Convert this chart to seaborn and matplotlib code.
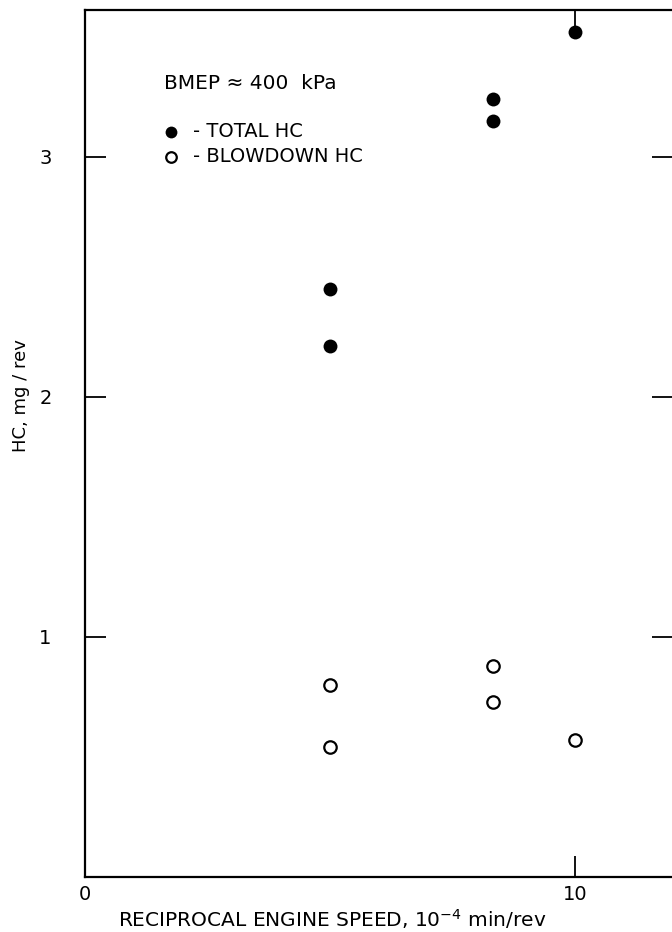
import numpy as np
import pandas as pd
import matplotlib
matplotlib.use("Agg")
import matplotlib.pyplot as plt
import seaborn as sns

# reciprocal engine speed, 10^-4 min/rev
total_x = [5.0, 5.0, 8.33, 8.33, 10.0]
total_hc = [2.45, 2.21, 3.24, 3.15, 3.52]

blowdown_x = [5.0, 5.0, 8.33, 8.33, 10.0]
blowdown_hc = [0.80, 0.54, 0.88, 0.73, 0.57]

x_ticks = [0, 10]
x_tick_labels = ["0", "10"]
y_ticks = [1, 2, 3]
y_tick_labels = ["1", "2", "3"]

df = pd.DataFrame({
    "x": total_x + blowdown_x,
    "hc": total_hc + blowdown_hc,
    "series": ["- TOTAL HC"] * len(total_x) + ["- BLOWDOWN HC"] * len(blowdown_x),
})

sns.set_style("white")
plt.rcParams["font.family"] = ["DejaVu Sans"]
plt.rcParams["text.color"] = "black"
plt.rcParams["axes.labelcolor"] = "black"
plt.rcParams["xtick.color"] = "black"
plt.rcParams["ytick.color"] = "black"

fig = plt.figure(figsize=(6.72, 9.32), dpi=100)
ax = fig.add_axes([0.1265, 0.059, 0.875, 0.930])

tot = df[df.series == "- TOTAL HC"]
blow = df[df.series == "- BLOWDOWN HC"]
sns.scatterplot(data=tot, x="x", y="hc", ax=ax, s=100, color="black",
                edgecolor="black", linewidth=0, label="- TOTAL HC")
sns.scatterplot(data=blow, x="x", y="hc", ax=ax, s=80, facecolor="white",
                edgecolor="black", linewidth=1.6, label="- BLOWDOWN HC")

ax.set_xlim(0, 12)
ax.set_ylim(0, 3.61)

ax.set_xticks(x_ticks)
ax.set_xticklabels(x_tick_labels, fontsize=14)
ax.set_yticks(y_ticks)
ax.set_yticklabels(y_tick_labels, fontsize=14)
ax.tick_params(axis="both", direction="in", length=15, width=1.3,
               top=True, right=True, bottom=True, left=True)
ax.tick_params(axis="y", pad=24)
ax.tick_params(axis="x", pad=6)

for side in ["left", "bottom", "top"]:
    ax.spines[side].set_color("black")
    ax.spines[side].set_linewidth(1.6)
ax.spines["right"].set_visible(False)

ax.set_xlabel("RECIPROCAL ENGINE SPEED, $\\mathregular{10^{-4}}$ min/rev", fontsize=14.5)
ax.xaxis.set_label_coords(0.42, -0.035)
ax.set_ylabel("HC, mg / rev", fontsize=13)
ax.yaxis.set_label_coords(-0.094, 0.555)

ax.text(0.135, 0.915, "BMEP \u2248 400  kPa", transform=ax.transAxes, fontsize=14.5,
        ha="left", va="center")
ax.legend(loc="upper left", bbox_to_anchor=(0.1, 0.88), frameon=False,
          fontsize=14, handletextpad=0.15, labelspacing=0.3, borderaxespad=0,
          markerscale=0.85)

fig.savefig("out.png", dpi=100)
